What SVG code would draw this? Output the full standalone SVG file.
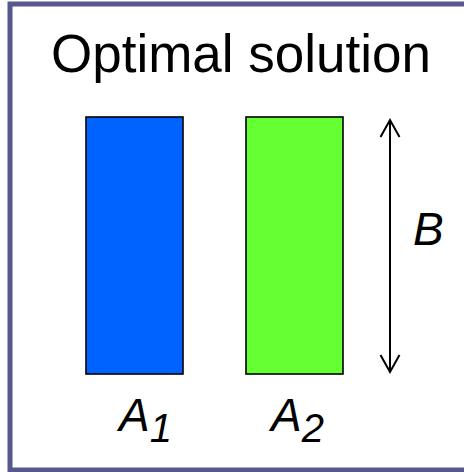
<svg xmlns="http://www.w3.org/2000/svg" width="464" height="472" viewBox="0 0 464 472">
<style>
text{font-family:"Liberation Sans",Arial,sans-serif;fill:#000}
.it{font-style:italic;font-size:46px}
.sub{font-size:40px}
.bar{stroke:#000;stroke-width:1.6}
.dim{stroke:#000;stroke-width:2;fill:none}
</style>
<rect x="10" y="4" width="462" height="466" fill="#fff" stroke="#585890" stroke-width="5"/>
<text x="241" y="72" font-size="53" text-anchor="middle">Optimal solution</text>
<g id="A1">
<rect class="bar" x="86" y="117" width="97" height="257" fill="#0062ff"/>
<text class="it" x="119" y="431">A<tspan class="sub" dy="11">1</tspan></text>
</g>
<g id="A2">
<rect class="bar" x="246" y="117" width="97" height="257" fill="#66ff33"/>
<text class="it" x="271" y="431">A<tspan class="sub" dy="11">2</tspan></text>
</g>
<g id="connectors">
<line class="dim" x1="390" y1="120" x2="390" y2="372"/>
<polyline class="dim" points="380.5,137 390,120 399.5,137"/>
<polyline class="dim" points="380.5,355 390,372 399.5,355"/>
</g>
<g id="B">
<text class="it" x="413" y="245">B</text>
</g>
</svg>
